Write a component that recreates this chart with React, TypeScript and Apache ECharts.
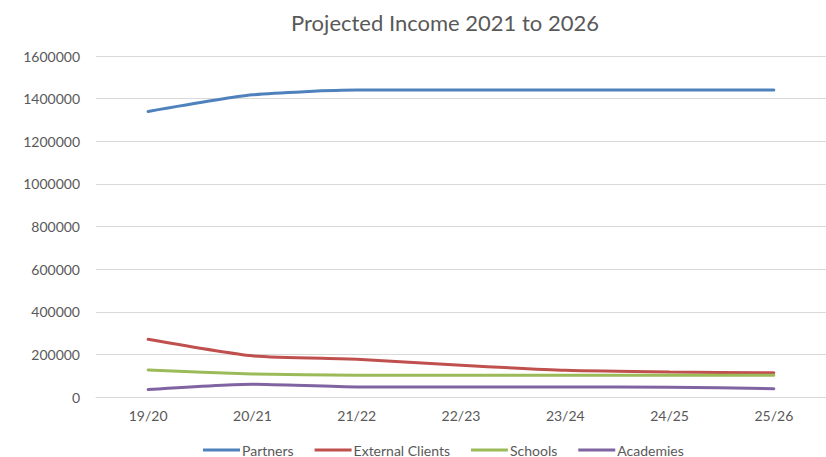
import React, { useEffect, useRef } from "react";
import * as echarts from "echarts";

const categories = ["19/20", "20/21", "21/22", "22/23", "23/24", "24/25", "25/26"];
const partners = [1340000, 1418000, 1440000, 1440000, 1440000, 1440000, 1440000];
const externalClients = [271000, 193000, 177000, 149000, 125000, 117000, 114000];
const schools = [127000, 108000, 102000, 102000, 102000, 102000, 102000];
const academies = [35000, 60000, 47000, 47000, 47000, 46000, 39000];
const seriesNames = ["Partners", "External Clients", "Schools", "Academies"];
const colors = ["#4F81BD", "#C0504D", "#9BBB59", "#8064A2"];

export default function App() {
  const ref = useRef<HTMLDivElement>(null);
  useEffect(() => {
    document.body.style.margin = "0";
    if (!ref.current) return;
    const chart = echarts.init(ref.current, undefined, { renderer: "svg" });
    const data = [partners, externalClients, schools, academies];
    chart.setOption({
      animation: false,
      backgroundColor: "#ffffff",
      color: colors,
      textStyle: { fontFamily: "Lato" },
      title: {
        text: "Projected Income 2021 to 2026",
        left: 440,
        textAlign: "center",
        top: 6,
        textStyle: { fontFamily: "Lato", fontSize: 22, fontWeight: "normal", color: "#595959" },
      },
      legend: {
        bottom: -5,
        left: 198,
        icon: "rect",
        itemWidth: 37,
        itemHeight: 3,
        itemGap: 21,
        textStyle: { fontFamily: "Lato", fontSize: 14, color: "#595959", padding: [0, 0, 0, -3] },
        data: seriesNames,
      },
      grid: { left: 96, right: -24, top: 56, bottom: 60, containLabel: false },
      xAxis: {
        type: "category",
        data: categories,
        boundaryGap: true,
        axisLine: { lineStyle: { color: "#D9D9D9" } },
        axisTick: { show: false },
        axisLabel: { fontFamily: "Lato", fontSize: 14, color: "#595959", margin: 11 },
      },
      yAxis: {
        type: "value",
        min: 0,
        max: 1600000,
        interval: 200000,
        axisLine: { show: false },
        axisTick: { show: false },
        axisLabel: {
          fontFamily: "Lato",
          fontSize: 14,
          color: "#595959",
          margin: 16,
          formatter: (v: number) => String(v),
        },
        splitLine: { lineStyle: { color: "#D9D9D9" } },
      },
      series: seriesNames.map((name, i) => ({
        name,
        type: "line",
        data: data[i],
        smooth: 0.2,
        symbol: "none",
        lineStyle: { width: 3, color: colors[i], cap: "round" },
        itemStyle: { color: colors[i] },
      })),
    });
    return () => chart.dispose();
  }, []);
  return <div ref={ref} style={{ width: 826, height: 457 }} />;
}
